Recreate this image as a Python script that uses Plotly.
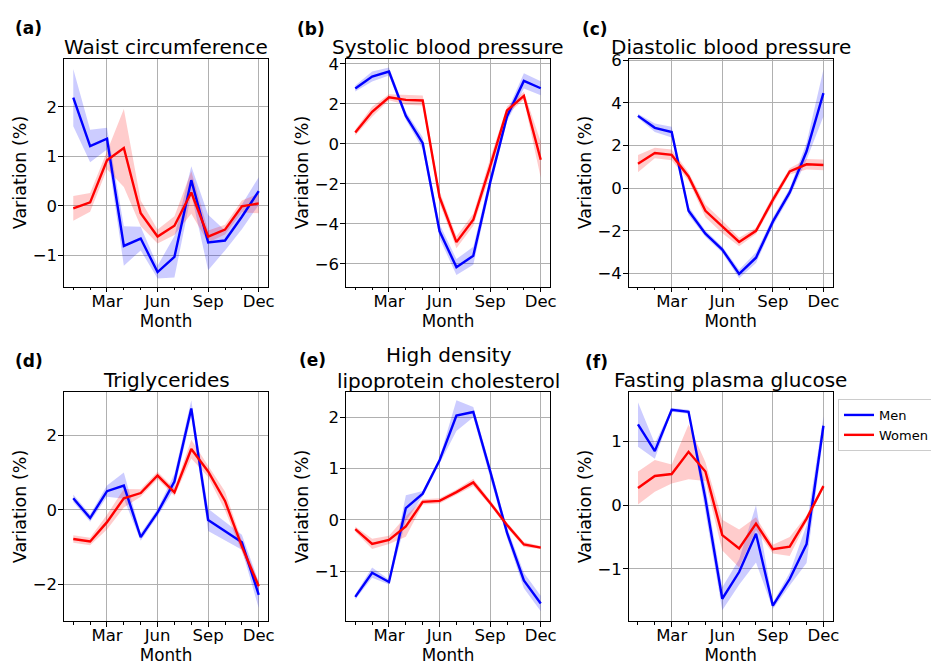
import plotly.graph_objects as go

# ---------------- data ----------------
months = list(range(1, 13))
month_tickvals = [3, 6, 9, 12]
month_ticktext = ["Mar", "Jun", "Sep", "Dec"]

panel_labels = ["(a)", "(b)", "(c)", "(d)", "(e)", "(f)"]
panel_titles = ["Waist circumference", "Systolic blood pressure", "Diastolic blood pressure",
                "Triglycerides", "High density<br>lipoprotein cholesterol", "Fasting plasma glucose"]

# (a) Waist circumference
waist_men = [2.19, 1.21, 1.36, -0.81, -0.66, -1.34, -1.03, 0.52, -0.74, -0.70, -0.22, 0.30]
waist_men_ci = [0.58, 0.33, 0.22, 0.40, 0.24, 0.13, 0.42, 0.28, 0.56, 0.20, 0.25, 0.28]
waist_women = [-0.05, 0.07, 0.92, 1.17, -0.15, -0.62, -0.40, 0.27, -0.62, -0.48, -0.01, 0.05]
waist_women_ci = [0.25, 0.19, 0.18, 0.79, 0.26, 0.14, 0.19, 0.43, 0.12, 0.10, 0.12, 0.20]

# (b) Systolic blood pressure
sbp_men = [2.77, 3.37, 3.62, 1.40, 0.03, -4.38, -6.17, -5.60, -1.93, 1.37, 3.15, 2.78]
sbp_men_ci = [0.15, 0.25, 0.20, 0.20, 0.30, 0.35, 0.40, 0.45, 0.30, 0.25, 0.38, 0.35]
sbp_women = [0.57, 1.60, 2.33, 2.20, 2.17, -2.67, -4.92, -3.80, -1.13, 1.67, 2.40, -0.80]
sbp_women_ci = [0.15, 0.25, 0.15, 0.25, 0.25, 0.30, 0.30, 0.30, 0.40, 0.20, 0.20, 0.90]

# (c) Diastolic blood pressure
dbp_men = [3.39, 2.83, 2.63, -1.06, -2.13, -2.88, -4.02, -3.26, -1.57, -0.20, 1.73, 4.46]
dbp_men_ci = [0.10, 0.20, 0.25, 0.20, 0.15, 0.15, 0.20, 0.25, 0.20, 0.20, 0.40, 1.10]
dbp_women = [1.15, 1.65, 1.56, 0.55, -1.06, -1.81, -2.52, -2.00, -0.55, 0.79, 1.12, 1.09]
dbp_women_ci = [0.40, 0.25, 0.25, 0.20, 0.30, 0.30, 0.20, 0.15, 0.20, 0.15, 0.25, 0.25]

# (d) Triglycerides
tg_men = [0.31, -0.22, 0.50, 0.65, -0.73, -0.07, 0.76, 2.72, -0.27, -0.57, -0.87, -2.28]
tg_men_ci = [0.10, 0.10, 0.15, 0.35, 0.10, 0.10, 0.20, 0.22, 0.30, 0.25, 0.20, 0.35]
tg_women = [-0.78, -0.85, -0.33, 0.31, 0.45, 0.92, 0.47, 1.63, 1.03, 0.24, -0.98, -2.05]
tg_women_ci = [0.10, 0.10, 0.20, 0.25, 0.10, 0.10, 0.10, 0.25, 0.15, 0.25, 0.15, 0.10]

# (e) High density lipoprotein cholesterol
hdl_men = [-1.50, -1.03, -1.21, 0.23, 0.51, 1.16, 2.03, 2.10, 0.95, -0.25, -1.18, -1.63]
hdl_men_ci = [0.05, 0.10, 0.05, 0.25, 0.05, 0.05, 0.30, 0.10, 0.10, 0.10, 0.15, 0.15]
hdl_women = [-0.18, -0.47, -0.39, -0.13, 0.35, 0.37, 0.54, 0.73, 0.33, -0.10, -0.48, -0.54]
hdl_women_ci = [0.05, 0.10, 0.08, 0.20, 0.05, 0.05, 0.05, 0.07, 0.05, 0.05, 0.05, 0.03]

# (f) Fasting plasma glucose
fpg_men = [1.27, 0.85, 1.50, 1.47, 0.10, -1.47, -1.05, -0.45, -1.58, -1.16, -0.61, 1.25]
fpg_men_ci = [0.35, 0.12, 0.03, 0.03, 0.20, 0.18, 0.20, 0.45, 0.05, 0.10, 0.30, 0.15]
fpg_women = [0.27, 0.46, 0.49, 0.84, 0.53, -0.47, -0.68, -0.29, -0.69, -0.65, -0.21, 0.30]
fpg_women_ci = [0.26, 0.25, 0.15, 0.43, 0.15, 0.24, 0.30, 0.10, 0.07, 0.15, 0.05, 0.03]

men_series = [waist_men, sbp_men, dbp_men, tg_men, hdl_men, fpg_men]
men_cis = [waist_men_ci, sbp_men_ci, dbp_men_ci, tg_men_ci, hdl_men_ci, fpg_men_ci]
women_series = [waist_women, sbp_women, dbp_women, tg_women, hdl_women, fpg_women]
women_cis = [waist_women_ci, sbp_women_ci, dbp_women_ci, tg_women_ci, hdl_women_ci, fpg_women_ci]

# ---------------- layout geometry (screen px of the target) ----------------
W, H = 939, 662
OFF = 8  # page body margin of the html page


def xp(px):
    return (px - OFF) / W


def yp(py):
    return 1 - (py - OFF) / H


col_px = [(64, 268), (346, 550), (628.7, 832.7)]
row_px = [(58.5, 286.5), (392, 621)]
y_ranges = [[-1.63, 2.98], [-7.14, 4.27], [-4.61, 6.08], [-2.98, 3.16], [-1.97, 2.49], [-1.82, 1.78]]
y_dticks = [1, 2, 2, 2, 1, 1]
title_centers_px = [47, 47, 47, 380, 368, 380]
label_pos_px = [(13, 28), (295, 29), (580, 29), (13, 361), (297, 360), (583, 362)]

FONT = "DejaVu Sans"
BLUE = "#0000ff"
RED = "#ff0000"
BLUE_FILL = "rgba(0,0,255,0.2)"
RED_FILL = "rgba(255,0,0,0.2)"

fig = go.Figure()
layout = dict(
    width=W, height=H,
    margin=dict(l=0, r=0, t=0, b=0, autoexpand=False),
    paper_bgcolor="white", plot_bgcolor="white",
    font=dict(family=FONT, size=16, color="black"),
    showlegend=True,
    legend=dict(x=xp(838), y=yp(399), xanchor="left", yanchor="top",
                bordercolor="#cccccc", borderwidth=1, bgcolor="white",
                font=dict(size=13, family=FONT), tracegroupgap=0),
)
annotations = []

for i in range(6):
    r, c = divmod(i, 3)
    n = i + 1
    xa = "x" if n == 1 else f"x{n}"
    ya = "y" if n == 1 else f"y{n}"
    x0, x1 = col_px[c]
    y0, y1 = row_px[r]

    for mean, ci, fill in [
        (men_series[i], men_cis[i], BLUE_FILL),
        (women_series[i], women_cis[i], RED_FILL),
    ]:
        upper = [m + e for m, e in zip(mean, ci)]
        lower = [m - e for m, e in zip(mean, ci)]
        fig.add_trace(go.Scatter(
            x=months + months[::-1], y=upper + lower[::-1],
            fill="toself", fillcolor=fill, line=dict(width=0, color=fill),
            mode="lines", hoverinfo="skip", showlegend=False, xaxis=xa, yaxis=ya))
    for mean, color, name in [(men_series[i], BLUE, "Men"), (women_series[i], RED, "Women")]:
        fig.add_trace(go.Scatter(
            x=months, y=mean, mode="lines", name=name,
            line=dict(color=color, width=2.4),
            showlegend=(i == 0), legendgroup=name, xaxis=xa, yaxis=ya))

    axis_common = dict(showline=True, linecolor="black", linewidth=1.3, mirror=True,
                       ticks="outside", tickcolor="black", ticklen=4.5, tickwidth=1,
                       showgrid=True, gridcolor="#b0b0b0", gridwidth=1,
                       zeroline=False, tickfont=dict(size=16.5, family=FONT),
                       automargin=False)
    layout["xaxis" if n == 1 else f"xaxis{n}"] = dict(
        axis_common,
        domain=[xp(x0), xp(x1)], anchor=ya, range=[0.45, 12.55],
        tickmode="array", tickvals=month_tickvals, ticktext=month_ticktext,
        ticklabelstandoff=-5,
        minor=dict(tickmode="array", tickvals=months, ticks="outside", ticklen=2.5,
                   tickcolor="black", tickwidth=1, showgrid=False),
        title=dict(text="Month", font=dict(size=16.8, family=FONT), standoff=0),
    )
    layout["yaxis" if n == 1 else f"yaxis{n}"] = dict(
        axis_common,
        domain=[yp(y1), yp(y0)], anchor=xa, range=y_ranges[i],
        tickmode="linear", tick0=0, dtick=y_dticks[i],
        ticklabelstandoff=-2,
        title=dict(text="Variation (%)", font=dict(size=17.5, family=FONT), standoff=1),
    )

    annotations.append(dict(
        text=panel_titles[i], x=xp((x0 + x1) / 2), y=yp(title_centers_px[i]),
        xref="paper", yref="paper", xanchor="center", yanchor="middle",
        showarrow=False, font=dict(size=20, family=FONT, color="black")))
    lx, ly = label_pos_px[i]
    annotations.append(dict(
        text="<b>" + panel_labels[i] + "</b>", x=xp(lx), y=yp(ly),
        xref="paper", yref="paper", xanchor="left", yanchor="middle",
        showarrow=False, font=dict(size=17, family=FONT, color="black")))

layout["annotations"] = annotations
fig.update_layout(**layout)
fig.write_html("out.html")
